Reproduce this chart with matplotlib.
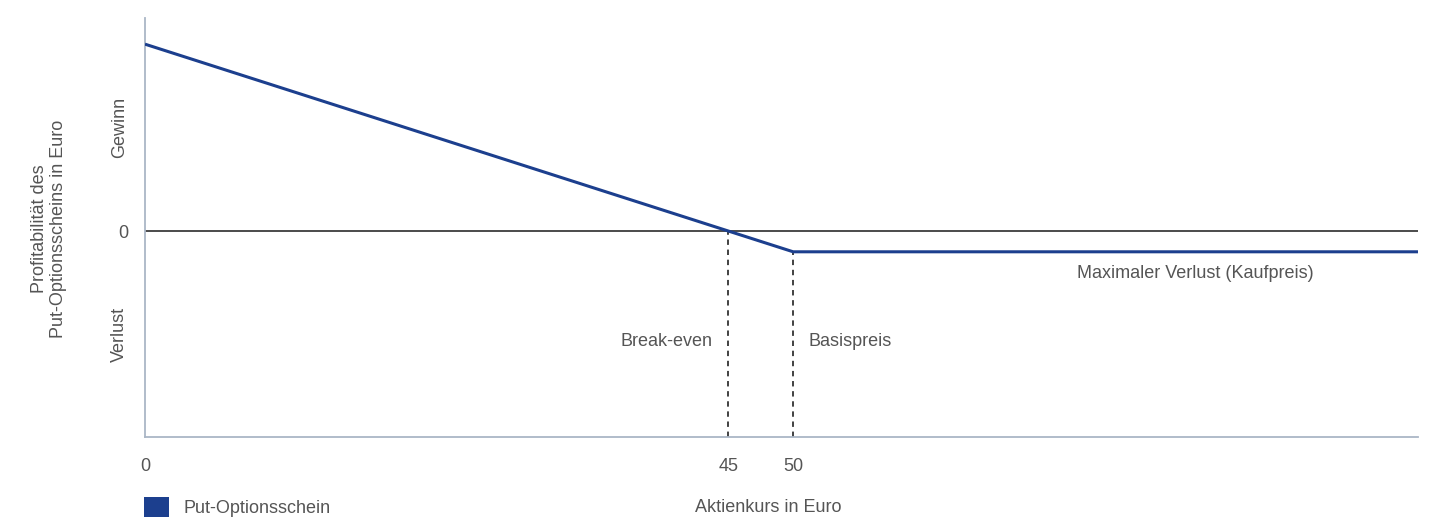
import matplotlib
matplotlib.use("Agg")
import matplotlib.pyplot as plt
from matplotlib.patches import Patch

plt.rcParams['font.family'] = ['Liberation Sans', 'DejaVu Sans']

# payoff of the put warrant
stock_price = [0, 50, 98.2]
profit = [45, -5, -5]
strike = 50
break_even = 45
premium = -5

line_col = '#1c3f8e'
text_col = '#555555'
fs = 13

fig = plt.figure(figsize=(14.3, 5.2), dpi=100)
ax = fig.add_axes([0.1014, 0.1596, 0.9916 - 0.1014, 0.9654 - 0.1596])

ax.plot(stock_price, profit, color=line_col, lw=2.2, solid_capstyle='butt', zorder=3)
ax.axhline(0, color='#1a1a1a', lw=1.1, zorder=2)

# dashed guides down to the x axis
ax.plot([break_even, break_even], [-49.6, 0], ls=(0, (3, 2.6)), color='#333333', lw=1.3)
ax.plot([strike, strike], [-49.6, premium], ls=(0, (3, 2.6)), color='#333333', lw=1.3)

ax.text(43.8, -26.5, 'Break-even', ha='right', va='center', fontsize=fs, color=text_col)
ax.text(51.2, -26.5, 'Basispreis', ha='left', va='center', fontsize=fs, color=text_col)
ax.text(71.9, -10.3, 'Maximaler Verlust (Kaufpreis)', ha='left', va='center',
        fontsize=fs, color=text_col)

ax.set_xlim(0, 98.2)
ax.set_ylim(-49.6, 51.3)

ax.set_xticks([0, break_even, strike])
ax.set_xticklabels(['0', '45', '50'])
ax.set_yticks([-25, 0, 25])
ax.set_yticklabels(['Verlust', '0', 'Gewinn'])
for lab in ax.get_yticklabels():
    if lab.get_text() != '0':
        lab.set_rotation(90)
        lab.set_va('center')
ax.tick_params(axis='both', length=0, labelsize=fs, labelcolor=text_col)
ax.tick_params(axis='x', pad=15)
ax.tick_params(axis='y', pad=12)

for s in ['top', 'right']:
    ax.spines[s].set_visible(False)
for s in ['left', 'bottom']:
    ax.spines[s].set_color('#aab6c6')
    ax.spines[s].set_linewidth(1.3)

fig.text(0.034, 0.56, 'Profitabilität des\nPut-Optionsscheins in Euro', rotation=90,
         ha='center', va='center', fontsize=fs, color=text_col, linespacing=1.15)
fig.text(0.537, 0.025, 'Aktienkurs in Euro', ha='center', va='center',
         fontsize=fs, color=text_col)

fig.legend(handles=[Patch(facecolor=line_col, edgecolor='none', label='Put-Optionsschein')],
           loc='center left', bbox_to_anchor=(0.089, 0.025), frameon=False,
           handlelength=1.4, handleheight=1.4, handletextpad=0.8,
           fontsize=fs, labelcolor=text_col)

fig.savefig('out.png', dpi=100, facecolor='white')
